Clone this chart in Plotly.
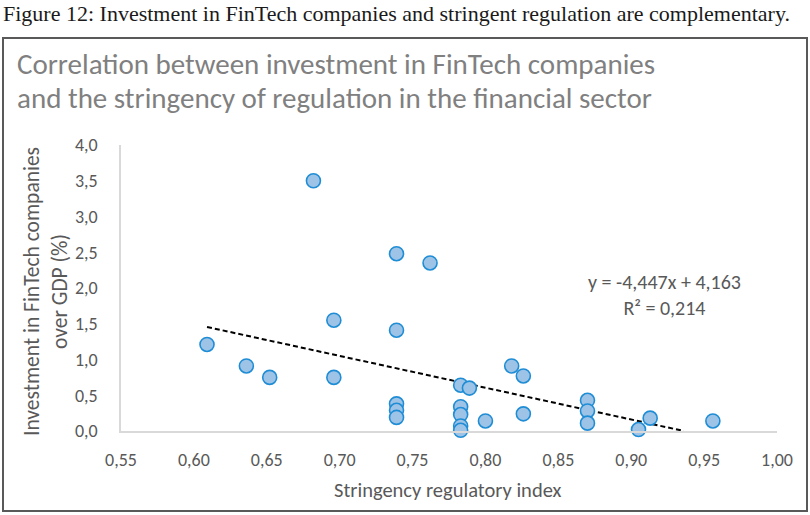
import plotly.graph_objects as go

# ---- data ----
stringency = [0.609, 0.636, 0.652, 0.682, 0.696, 0.696, 0.739, 0.739, 0.739, 0.739, 0.739,
              0.762, 0.783, 0.789, 0.783, 0.783, 0.783, 0.783, 0.800, 0.818, 0.826, 0.826,
              0.870, 0.870, 0.870, 0.905, 0.913, 0.956]
investment = [1.21, 0.91, 0.75, 3.50, 1.55, 0.75, 2.48, 1.41, 0.38, 0.29, 0.19,
              2.35, 0.64, 0.60, 0.34, 0.23, 0.07, 0.01, 0.14, 0.91, 0.77, 0.24,
              0.43, 0.28, 0.11, 0.02, 0.18, 0.14]
trend_slope = -4.447
trend_intercept = 4.163
r_squared = 0.214
x_ticks = [0.55, 0.60, 0.65, 0.70, 0.75, 0.80, 0.85, 0.90, 0.95, 1.00]
y_ticks = [0.0, 0.5, 1.0, 1.5, 2.0, 2.5, 3.0, 3.5, 4.0]

caption = "Figure 12: Investment in FinTech companies and stringent regulation are complementary."
title_lines = ["Correlation between investment in FinTech companies",
               "and the stringency of regulation in the financial sector"]

W, H = 810, 515
L, R, T, B = 121, 777, 145, 431
PW, PH = R - L, B - T


def px(x):
    return (x - L) / PW


def py(y):
    return (B - y) / PH


x_min = min(stringency)
x_end = -trend_intercept / trend_slope
trend_x = [x_min, x_end]
trend_y = [trend_slope * v + trend_intercept for v in trend_x]

sans = "Carlito, Lato, 'Open Sans', sans-serif"
gray = "#595959"

fig = go.Figure()
fig.add_trace(go.Scatter(
    x=trend_x, y=trend_y, mode="lines",
    line=dict(color="black", width=2, dash="5px,3px"),
    hoverinfo="skip", showlegend=False,
))
fig.add_trace(go.Scatter(
    x=stringency, y=investment, mode="markers",
    marker=dict(size=14, color="#9DC3E6", line=dict(color="#1F8DD6", width=1.6)),
    cliponaxis=False, showlegend=False,
))

fig.update_layout(
    width=W, height=H,
    margin=dict(l=L, r=W - R, t=T, b=H - B, pad=0),
    paper_bgcolor="white", plot_bgcolor="white",
    separators=", ",
    font=dict(family=sans, color=gray, size=18),
    xaxis=dict(range=[0.55, 1.0], tickvals=x_ticks, tickformat=".2f",
               showgrid=False, zeroline=False, showline=True, linecolor="#D9D9D9",
               linewidth=1.5, ticks="", ticklabelstandoff=12,
               tickfont=dict(size=18, color=gray, family=sans)),
    yaxis=dict(range=[0, 4.0], tickvals=y_ticks, tickformat=".1f",
               showgrid=False, zeroline=False, showline=True, linecolor="#D9D9D9",
               linewidth=1.5, ticks="", ticklabelstandoff=18,
               tickfont=dict(size=18, color=gray, family=sans)),
    shapes=[dict(type="rect", xref="paper", yref="paper",
                 x0=px(3), x1=px(807), y0=py(38), y1=py(511),
                 line=dict(color="#595959", width=2), fillcolor="rgba(0,0,0,0)",
                 layer="below")],
)

eq_text = f"y = {trend_slope:.3f}x + {trend_intercept:.3f}".replace(".", ",") + \
          "<br>R² = " + f"{r_squared:.3f}".replace(".", ",")

annotations = [
    dict(text=caption, x=px(1), y=py(14), xanchor="left", yanchor="middle",
         font=dict(family="'Liberation Serif', serif", size=22, color="#1a1a1a")),
    dict(text=title_lines[0], x=px(15), y=py(64), xanchor="left", yanchor="middle",
         font=dict(family=sans, size=29, color="#808080")),
    dict(text=title_lines[1], x=px(15), y=py(98), xanchor="left", yanchor="middle",
         font=dict(family=sans, size=29, color="#808080")),
    dict(text=eq_text, x=px(664), y=py(295), xanchor="center", yanchor="middle",
         align="center", font=dict(family=sans, size=20, color=gray)),
    dict(text="Stringency regulatory index", x=px(448), y=py(490), xanchor="center",
         yanchor="middle", font=dict(family=sans, size=20.5, color=gray)),
    dict(text="Investment in FinTech companies<br>over GDP (%)", x=px(46), y=py(292),
         xanchor="center", yanchor="middle", textangle=-90, align="center",
         font=dict(family=sans, size=21.5, color=gray)),
]
for a in annotations:
    a.update(xref="paper", yref="paper", showarrow=False)
fig.update_layout(annotations=annotations)

fig.write_html("out.html", config={"displayModeBar": False},
               post_script="document.body.style.margin='0';")
